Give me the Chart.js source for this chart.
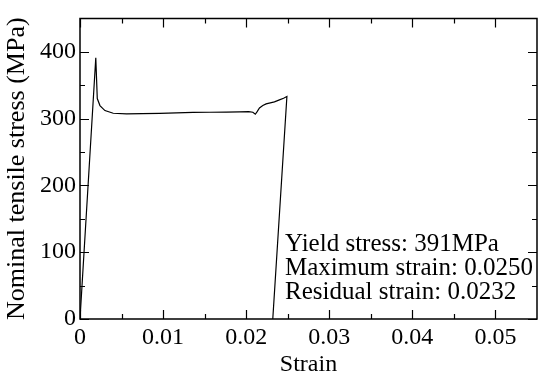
<!DOCTYPE html>
<html>
<head>
<meta charset="utf-8">
<script src="https://cdn.jsdelivr.net/npm/chart.js@4.4.1/dist/chart.umd.min.js"></script>
<style>
  html, body { margin: 0; padding: 0; background: #fff; }
  #wrap { width: 539px; height: 373px; }
</style>
</head>
<body>
<div id="wrap"><canvas id="c" width="539" height="373"></canvas></div>
<script>
// ---- Data ----
const strain = [0, 0.0019, 0.00208, 0.0024, 0.0030, 0.0040, 0.0056, 0.0075, 0.0096, 0.0116, 0.0136, 0.0156, 0.0176, 0.0192, 0.0203, 0.0208, 0.0211, 0.0213, 0.0216, 0.0220, 0.0224, 0.0229, 0.0234, 0.0240, 0.0245, 0.0249, 0.0232];
const stress = [0, 391, 330, 319.5, 312, 308, 307, 307.3, 307.8, 308.5, 309.2, 309.5, 309.8, 310.2, 310.5, 309.5, 306.5, 310, 316, 319.5, 322, 323.5, 325, 328, 330.5, 333, 0];

const xTicks = [0, 0.01, 0.02, 0.03, 0.04, 0.05];
const xTickLabels = ['0', '0.01', '0.02', '0.03', '0.04', '0.05'];
const xMinorTicks = [0.005, 0.015, 0.025, 0.035, 0.045];
const yTicks = [0, 100, 200, 300, 400];
const yTickLabels = ['0', '100', '200', '300', '400'];
const yMinorTicks = [50, 150, 250, 350];

const annotationLines = ['Yield stress: 391MPa', 'Maximum strain: 0.0250', 'Residual strain: 0.0232'];

const FONT = 'Liberation Serif, Times New Roman, serif';

const points = strain.map((s, i) => ({ x: s, y: stress[i] }));

// Inward tick marks on all four sides + top/right frame
const frameTicks = {
  id: 'frameTicks',
  afterDraw(chart) {
    const { ctx, chartArea: a, scales: { x, y } } = chart;
    ctx.save();
    ctx.strokeStyle = '#000';
    ctx.lineWidth = 1.5;
    ctx.beginPath();
    ctx.rect(a.left, a.top, a.right - a.left, a.bottom - a.top);
    ctx.stroke();
    ctx.lineWidth = 1.2;
    const major = 9, minor = 5;
    const xt = (v, len) => {
      const px = Math.round(x.getPixelForValue(v)) + 0.5;
      ctx.moveTo(px, a.bottom); ctx.lineTo(px, a.bottom - len);
      ctx.moveTo(px, a.top); ctx.lineTo(px, a.top + len);
    };
    const yt = (v, len) => {
      const py = Math.round(y.getPixelForValue(v)) + 0.5;
      ctx.moveTo(a.left, py); ctx.lineTo(a.left + len, py);
      ctx.moveTo(a.right, py); ctx.lineTo(a.right - len, py);
    };
    ctx.beginPath();
    xTicks.forEach(v => xt(v, major));
    xMinorTicks.forEach(v => xt(v, minor));
    yTicks.forEach(v => yt(v, major));
    yMinorTicks.forEach(v => yt(v, minor));
    ctx.stroke();

    // annotation text
    ctx.fillStyle = '#000';
    ctx.font = '25px ' + FONT;
    ctx.textAlign = 'left';
    ctx.textBaseline = 'alphabetic';
    annotationLines.forEach((t, i) => ctx.fillText(t, 285, 251 + i * 23.8));
    ctx.restore();
  }
};

new Chart(document.getElementById('c'), {
  type: 'line',
  data: {
    datasets: [{
      data: points,
      borderColor: '#000',
      borderWidth: 1.2,
      pointRadius: 0,
      fill: false,
      tension: 0
    }]
  },
  options: {
    responsive: false,
    animation: false,
    devicePixelRatio: 1,
    layout: { padding: { top: 14, right: 2, bottom: 0, left: 0 } },
    plugins: { legend: { display: false }, tooltip: { enabled: false } },
    scales: {
      x: {
        type: 'linear',
        min: 0, max: 0.055,
        afterBuildTicks: s => { s.ticks = xTicks.map(v => ({ value: v })); },
        afterFit: s => { s.height = 54; },
        grid: { display: false, drawTicks: false },
        border: { display: false },
        ticks: {
          padding: 4,
          color: '#000',
          font: { family: FONT, size: 24 },
          maxRotation: 0,
          callback: (v) => { const i = xTicks.indexOf(v); return i >= 0 ? xTickLabels[i] : ''; }
        },
        title: {
          display: true, text: 'Strain', color: '#000',
          font: { family: FONT, size: 24, lineHeight: 0.7 },
          padding: { top: 0, bottom: 0 }
        }
      },
      y: {
        type: 'linear',
        min: 0, max: 450,
        afterBuildTicks: s => { s.ticks = yTicks.map(v => ({ value: v })); },
        afterFit: s => { s.width = 80; },
        grid: { display: false, drawTicks: false },
        border: { display: false },
        ticks: {
          padding: 4,
          color: '#000',
          font: { family: FONT, size: 24 },
          callback: (v) => { const i = yTicks.indexOf(v); return i >= 0 ? yTickLabels[i] : ''; }
        },
        title: {
          display: true, text: 'Nominal tensile stress (MPa)', color: '#000',
          font: { family: FONT, size: 26, lineHeight: 1.2 },
          padding: { top: 2, bottom: 0 }
        }
      }
    }
  },
  plugins: [frameTicks]
});
</script>
</body>
</html>
